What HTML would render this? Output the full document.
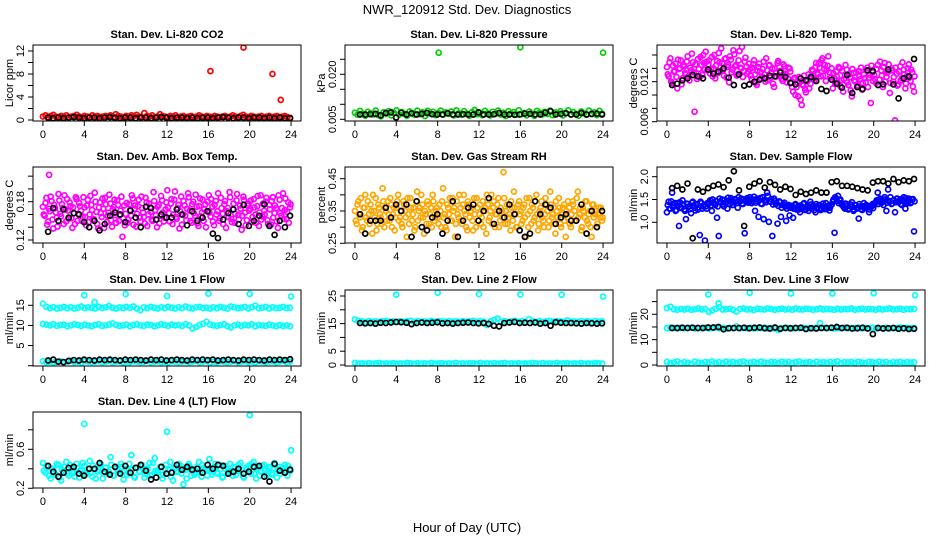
<!DOCTYPE html>
<html><head><meta charset="utf-8"><style>
html,body{margin:0;padding:0;background:#fff;}
svg{display:block;font-family:"Liberation Sans",sans-serif;}
</style></head><body>
<svg id="chart" width="936" height="540" viewBox="0 0 936 540">
<rect x="0" y="0" width="936" height="540" fill="#fff"/>
<text x="467" y="14" font-size="13" text-anchor="middle">NWR_120912  Std. Dev. Diagnostics</text>
<text x="467" y="532" font-size="13" text-anchor="middle">Hour of Day (UTC)</text>
</svg>
<script>
// ---- data ----
const xTicks = [0,4,8,12,16,20,24];
const xTickLabels = ["0","4","8","12","16","20","24"];

const co2Main = [0.6,0.8,0.5,0.7,0.9,0.6,0.5,0.7,0.6,0.8,0.5,0.6,0.7,0.9,0.6,0.5,0.7,0.6,0.5,0.8,0.6,0.7,0.5,0.6,0.7,0.6,0.8,0.5,1.0,0.7,0.6,0.5,0.7,0.6,0.8,0.7,0.9,0.6,0.5,1.2,0.7,0.6,0.8,0.5,0.6,1.0,0.7,0.6,0.5,0.7,0.6,0.8,0.5,0.6,0.7,0.5,0.6,0.7,0.5,0.6,0.8,0.6,0.5,0.7,0.6,0.5,0.7,0.6,0.5,0.6,0.7,0.5,0.6,0.8,0.6,0.5,0.7,0.9,0.6,0.5,0.7,0.6,0.5,0.6,0.7,0.5,0.6,0.7,0.5,0.6,0.7,0.5,0.6,0.7,0.5,0.4];
const co2Black = [0.4,0.3,0.4,0.3,0.4,0.5,0.4,0.3,0.4,0.4,0.3,0.4,0.5,0.4,0.3,0.4,0.4,0.3,0.4,0.4,0.3,0.4,0.5,0.4,0.3,0.4,0.4,0.3,0.4,0.3,0.4,0.4,0.3,0.4,0.5,0.4,0.3,0.4,0.4,0.3,0.4,0.4,0.3,0.4,0.3,0.4,0.3,0.3];
const co2OutX = [16.2,19.4,22.2,23.0];
const co2OutY = [8.5,12.6,8.0,3.5];

const presMain = [0.0072,0.0065,0.0078,0.0068,0.0062,0.0075,0.0070,0.0066,0.0079,0.0064,0.0060,0.0073,0.0069,0.0077,0.0063,0.0071,0.0080,0.0066,0.0074,0.0068,0.0062,0.0076,0.0070,0.0065,0.0079,0.0067,0.0073,0.0061,0.0078,0.0069,0.0075,0.0064,0.0071,0.0079,0.0066,0.0073,0.0068,0.0076,0.0063,0.0080,0.0070,0.0065,0.0077,0.0069,0.0062,0.0074,0.0081,0.0067,0.0072,0.0064,0.0078,0.0070,0.0063,0.0075,0.0068,0.0079,0.0066,0.0072,0.0061,0.0077,0.0069,0.0074,0.0065,0.0080,0.0067,0.0071,0.0063,0.0076,0.0069,0.0062,0.0078,0.0072,0.0066,0.0075,0.0068,0.0079,0.0064,0.0073,0.0070,0.0077,0.0063,0.0071,0.0080,0.0066,0.0074,0.0068,0.0062,0.0076,0.0070,0.0065,0.0079,0.0067,0.0073,0.0064,0.0078,0.0069];
const presBlack = [0.0066,0.0066,0.0067,0.0068,0.0063,0.0071,0.0073,0.0056,0.0072,0.0066,0.0070,0.0066,0.0068,0.0071,0.0067,0.0066,0.0066,0.0070,0.0066,0.0066,0.0067,0.0066,0.0066,0.0073,0.0066,0.0066,0.0067,0.0071,0.0066,0.0066,0.0065,0.0066,0.0069,0.0068,0.0066,0.0066,0.0072,0.0077,0.0066,0.0068,0.0070,0.0066,0.0066,0.0071,0.0066,0.0068,0.0069,0.0066];
const presOutX = [8.1,16.0,24.0];
const presOutY = [0.0272,0.0290,0.0272];

const tempMain = [.0142,.0128,.0155,.0118,.0135,.0147,.0110,.0139,.0152,.0125,.0143,.0131,.0158,.0122,.0137,.0149,.0075,.0133,.0154,.0127,.0145,.0160,.0138,.0150,
.0146,.0132,.0157,.0140,.0125,.0151,.0163,.0136,.0148,.0129,.0155,.0142,.0119,.0153,.0138,.0161,.0145,.0131,.0166,.0140,.0127,.0150,.0143,.0135,
.0138,.0124,.0146,.0131,.0115,.0142,.0135,.0128,.0150,.0120,.0137,.0144,.0126,.0139,.0112,.0133,.0148,.0129,.0136,.0121,.0143,.0130,.0125,.0140,
.0118,.0105,.0126,.0112,.0098,.0120,.0085,.0114,.0108,.0123,.0131,.0117,.0138,.0125,.0142,.0133,.0147,.0128,.0155,.0139,.0121,.0144,.0134,.0127,
.0110,.0125,.0135,.0118,.0140,.0122,.0105,.0130,.0138,.0115,.0127,.0098,.0133,.0120,.0112,.0136,.0124,.0108,.0131,.0119,.0141,.0126,.0088,.0134,
.0130,.0118,.0145,.0123,.0137,.0112,.0148,.0127,.0135,.0103,.0140,.0120,.0062,.0132,.0116,.0143,.0125,.0138,.0110,.0129,.0146,.0121,.0134,.0105];
const tempMain2 = [.0131,.0149,.0120,.0144,.0136,.0127,.0153,.0140,.0116,.0145,.0133,.0150,.0128,.0141,.0162,.0134,.0146,.0124,.0139,.0157,.0130,.0148,.0165,.0137,
.0152,.0139,.0128,.0160,.0144,.0133,.0149,.0170,.0137,.0154,.0126,.0145,.0158,.0134,.0167,.0143,.0129,.0152,.0141,.0172,.0136,.0156,.0132,.0147,
.0129,.0141,.0152,.0118,.0136,.0147,.0125,.0139,.0131,.0155,.0122,.0145,.0134,.0117,.0140,.0128,.0151,.0136,.0124,.0146,.0132,.0119,.0141,.0135,
.0112,.0124,.0100,.0119,.0127,.0093,.0116,.0129,.0104,.0121,.0110,.0128,.0136,.0122,.0148,.0131,.0141,.0152,.0129,.0145,.0137,.0158,.0126,.0140,
.0132,.0117,.0128,.0142,.0113,.0136,.0124,.0145,.0119,.0131,.0107,.0139,.0122,.0134,.0115,.0128,.0141,.0118,.0125,.0137,.0112,.0130,.0144,.0121,
.0124,.0139,.0115,.0150,.0129,.0142,.0120,.0133,.0146,.0118,.0137,.0127,.0141,.0114,.0135,.0122,.0149,.0131,.0117,.0140,.0126,.0138,.0113,.0128];
const tempBlack = [.0115,.0117,.0122,.0125,.0130,.0128,.0125,.0138,.0132,.0135,.0140,.0126,.0115,.0131,.0114,.0116,.0120,.0123,.0125,.0129,.0128,.0134,.0127,.0118,.0116,.0125,.0122,.0127,.0121,.0109,.0106,.0123,.0117,.0111,.0130,.0103,.0112,.0109,.0137,.0136,.0115,.0116,.0138,.0116,.0095,.0125,.0128,.0154];

const ambMain = [0.172,0.158,0.186,0.149,0.165,0.181,0.138,0.170,0.155,0.192,0.161,0.176,0.145,0.168,0.184,0.153,0.173,0.139,0.162,0.187,0.150,0.178,0.166,0.157,
0.171,0.143,0.183,0.160,0.175,0.152,0.194,0.164,0.138,0.179,0.156,0.169,0.186,0.148,0.163,0.177,0.141,0.172,0.159,0.182,0.150,0.166,0.125,0.174,
0.161,0.147,0.176,0.158,0.185,0.169,0.141,0.173,0.155,0.188,0.163,0.146,0.179,0.160,0.171,0.152,0.195,0.167,0.140,0.175,0.158,0.182,0.149,0.168,
0.198,0.162,0.177,0.145,0.183,0.156,0.170,0.138,0.188,0.160,0.174,0.151,0.193,0.166,0.147,0.180,0.158,0.172,0.142,0.185,0.163,0.150,0.176,0.165,
0.190,0.157,0.172,0.143,0.181,0.165,0.150,0.186,0.161,0.176,0.139,0.170,0.195,0.153,0.168,0.147,0.182,0.159,0.174,0.136,0.188,0.163,0.151,0.177,
0.169,0.148,0.184,0.160,0.173,0.142,0.190,0.157,0.166,0.180,0.151,0.175,0.144,0.187,0.162,0.170,0.139,0.183,0.158,0.193,0.167,0.153,0.179,0.171];
const ambMain2 = [0.160,0.178,0.144,0.169,0.188,0.152,0.175,0.163,0.141,0.182,0.157,0.170,0.190,0.149,0.166,0.179,0.154,0.171,0.145,0.184,0.161,0.173,0.150,0.187,
0.156,0.174,0.148,0.189,0.167,0.153,0.180,0.145,0.171,0.162,0.185,0.139,0.176,0.158,0.191,0.151,0.168,0.183,0.147,0.175,0.160,0.188,0.154,0.143,
0.178,0.152,0.167,0.190,0.144,0.174,0.161,0.183,0.149,0.170,0.156,0.186,0.142,0.177,0.164,0.150,0.181,0.159,0.172,0.146,0.189,0.163,0.155,0.179,
0.171,0.149,0.184,0.160,0.196,0.153,0.175,0.165,0.144,0.181,0.158,0.169,0.187,0.150,0.176,0.162,0.191,0.146,0.173,0.157,0.183,0.168,0.140,0.180,
0.163,0.184,0.149,0.175,0.160,0.193,0.154,0.170,0.145,0.181,0.165,0.156,0.187,0.148,0.177,0.161,0.192,0.152,0.169,0.158,0.183,0.143,0.174,0.166,
0.182,0.156,0.171,0.147,0.189,0.163,0.152,0.177,0.160,0.186,0.145,0.168,0.181,0.155,0.174,0.149,0.190,0.162,0.170,0.153,0.185,0.164,0.147,0.176];
const ambBlack = [0.133,0.170,0.150,0.168,0.155,0.162,0.160,0.148,0.140,0.150,0.135,0.145,0.158,0.163,0.160,0.148,0.166,0.155,0.140,0.172,0.170,0.152,0.160,0.155,0.155,0.168,0.160,0.143,0.165,0.150,0.155,0.165,0.130,0.123,0.152,0.162,0.168,0.145,0.175,0.142,0.150,0.158,0.176,0.142,0.128,0.150,0.140,0.158];
const ambOutX = [0.6];
const ambOutY = [0.222];

const rhMain = [0.35,0.31,0.38,0.33,0.29,0.36,0.40,0.32,0.34,0.37,0.28,0.35,0.39,0.31,0.36,0.33,0.42,0.30,0.35,0.38,0.32,0.37,0.34,0.29,
0.36,0.40,0.33,0.31,0.38,0.35,0.27,0.34,0.39,0.32,0.36,0.30,0.41,0.35,0.33,0.37,0.28,0.34,0.38,0.31,0.36,0.40,0.32,0.35,
0.33,0.37,0.30,0.42,0.34,0.29,0.36,0.39,0.32,0.35,0.27,0.38,0.33,0.36,0.31,0.40,0.34,0.29,0.37,0.35,0.32,0.39,0.30,0.36,
0.34,0.31,0.38,0.35,0.28,0.37,0.33,0.40,0.36,0.30,0.34,0.39,0.32,0.35,0.47,0.31,0.37,0.33,0.29,0.36,0.41,0.34,0.30,0.38,
0.35,0.32,0.37,0.27,0.34,0.39,0.31,0.36,0.33,0.40,0.29,0.35,0.38,0.32,0.34,0.37,0.30,0.41,0.33,0.36,0.28,0.35,0.39,0.31,
0.34,0.37,0.27,0.33,0.36,0.30,0.38,0.35,0.32,0.41,0.34,0.29,0.36,0.33,0.38,0.31,0.35,0.27,0.37,0.34,0.30,0.36,0.33,0.32];
const rhMain2 = [0.32,0.37,0.34,0.39,0.30,0.36,0.33,0.38,0.31,0.35,0.40,0.33,0.29,0.37,0.34,0.31,0.38,0.36,0.32,0.34,0.39,0.30,0.36,0.33,
0.38,0.32,0.35,0.30,0.37,0.33,0.39,0.31,0.36,0.34,0.29,0.38,0.32,0.36,0.40,0.33,0.35,0.31,0.37,0.34,0.30,0.38,0.33,0.36,
0.31,0.35,0.38,0.33,0.30,0.37,0.34,0.32,0.39,0.36,0.31,0.34,0.40,0.32,0.37,0.35,0.30,0.38,0.33,0.36,0.29,0.34,0.39,0.32,
0.37,0.33,0.30,0.36,0.40,0.32,0.35,0.31,0.38,0.34,0.37,0.30,0.36,0.33,0.39,0.35,0.31,0.34,0.38,0.32,0.36,0.30,0.37,0.34,
0.31,0.36,0.33,0.39,0.30,0.35,0.37,0.32,0.38,0.34,0.31,0.36,0.33,0.30,0.39,0.35,0.32,0.37,0.34,0.31,0.38,0.33,0.36,0.30,
0.36,0.32,0.35,0.38,0.31,0.34,0.37,0.32,0.39,0.33,0.36,0.30,0.35,0.38,0.32,0.34,0.30,0.37,0.33,0.35,0.31,0.34,0.36,0.33];
const rhBlack = [0.34,0.28,0.32,0.32,0.32,0.36,0.33,0.37,0.35,0.37,0.27,0.38,0.30,0.29,0.33,0.34,0.28,0.32,0.38,0.27,0.32,0.36,0.37,0.32,0.35,0.39,0.31,0.35,0.33,0.37,0.34,0.29,0.27,0.28,0.38,0.34,0.37,0.36,0.31,0.33,0.34,0.32,0.32,0.37,0.28,0.35,0.30,0.35];

const flowMain = [1.22,1.45,1.30,1.65,1.38,1.25,1.42,0.92,1.33,1.48,1.28,1.07,1.40,1.35,1.20,1.45,1.32,1.38,1.28,0.72,1.42,1.35,0.60,1.30,
1.40,1.48,1.25,1.43,1.38,1.10,0.70,1.45,1.50,1.35,1.42,1.30,1.47,1.53,1.38,1.44,1.49,1.32,1.46,1.52,1.40,0.76,1.48,1.43,
1.55,1.42,1.50,1.25,1.47,1.12,1.53,1.40,1.07,1.48,1.65,1.01,1.45,0.70,1.52,1.40,0.97,1.46,1.12,1.38,1.43,1.03,1.35,1.15,
1.32,1.10,1.38,1.28,1.35,1.22,1.30,1.40,1.27,1.33,1.25,1.45,1.30,1.36,1.22,1.31,1.38,1.27,1.35,1.29,1.42,1.33,1.26,1.38,
1.45,0.77,1.52,1.58,1.48,1.42,1.36,1.30,1.40,1.28,1.35,1.44,1.25,1.38,1.30,1.08,1.35,1.27,1.42,1.31,1.36,1.22,1.33,1.40,
1.38,1.45,1.65,1.48,1.42,1.50,1.55,1.25,1.72,1.45,1.40,1.48,1.22,1.52,1.44,1.50,1.38,1.55,1.30,1.46,1.52,1.42,1.50,0.80];
const flowMain2 = [1.38,1.30,1.46,1.33,1.42,1.27,1.36,1.44,1.31,1.39,1.25,1.41,1.34,1.29,1.43,1.37,1.26,1.40,1.33,1.45,1.30,1.38,1.35,1.42,
1.44,1.37,1.50,1.41,1.47,1.35,1.52,1.43,1.39,1.49,1.45,1.54,1.40,1.48,1.44,1.51,1.42,1.55,1.46,1.41,1.50,1.47,1.53,1.45,
1.50,1.46,1.56,1.43,1.52,1.48,1.41,1.55,1.49,1.44,1.58,1.46,1.51,1.39,1.47,1.42,1.36,1.44,1.32,1.40,1.35,1.30,1.38,1.33,
1.36,1.30,1.40,1.33,1.28,1.37,1.34,1.42,1.29,1.36,1.31,1.39,1.35,1.27,1.40,1.33,1.37,1.30,1.41,1.34,1.29,1.36,1.32,1.39,
1.50,1.55,1.47,1.42,1.50,1.38,1.33,1.41,1.36,1.30,1.39,1.34,1.28,1.37,1.32,1.40,1.29,1.35,1.31,1.38,1.33,1.28,1.36,1.31,
1.42,1.48,1.40,1.52,1.45,1.38,1.50,1.43,1.47,1.55,1.41,1.49,1.44,1.52,1.46,1.40,1.50,1.45,1.53,1.42,1.48,1.44,1.51,1.46];
const flowBlack = [1.75,1.80,1.72,1.85,0.65,1.72,1.67,1.75,1.80,1.83,1.77,1.92,2.12,1.70,0.92,1.78,1.85,1.90,1.76,1.88,1.82,1.72,1.78,1.73,1.60,1.67,1.62,1.65,1.70,1.65,1.65,1.88,1.90,1.80,1.80,1.78,1.75,1.72,1.70,1.87,1.90,1.90,1.85,1.95,1.88,1.92,1.90,1.95];

const line1Hi = [15.4,14.6,14.3,14.5,14.2,14.4,14.6,14.3,14.5,14.2,14.4,14.7,14.3,14.5,14.4,14.2,14.6,14.3,14.5,14.8,14.4,14.2,14.5,14.3,14.6,14.4,14.7,14.2,13.8,14.5,14.3,14.6,14.4,14.2,14.5,14.3,14.6,14.4,14.2,14.5,14.3,14.7,14.4,14.2,14.5,14.6,14.3,14.4,14.2,14.5,14.3,14.6,14.4,14.2,14.7,14.5,14.3,14.4,14.6,14.2,14.5,14.9,14.3,14.4,14.6,14.2,14.5,14.3,14.4,14.6,14.3,14.4];
const line1Mid = [10.4,10.2,10.0,10.3,9.9,10.1,10.2,9.8,10.0,10.3,10.1,9.9,10.2,10.0,9.8,10.1,10.3,9.9,10.0,10.2,10.5,10.1,9.9,10.0,10.2,9.8,10.1,10.3,10.0,9.9,10.2,10.1,9.8,10.0,10.3,10.1,9.9,10.2,10.0,10.1,9.9,10.3,10.0,9.2,9.6,10.1,10.4,10.9,10.2,10.0,9.9,10.1,10.3,9.8,9.5,10.0,10.2,9.9,10.1,10.0,10.3,9.8,10.1,10.0,9.9,10.2,10.0,9.8,10.1,9.9,10.0,9.8];
const line1Lo = [1.1,0.9,1.0,0.8,1.0,1.1,0.9,1.0,1.2,0.9,1.0,0.8,1.1,1.0,0.9,1.0,1.1,0.9,1.0,1.2,0.9,1.0,1.1,0.8,1.0,0.9,1.1,1.0,0.9,1.0,1.2,0.9,1.0,1.1,0.9,1.0,0.8,1.1,1.0,0.9,1.0,1.1,0.9,1.0,1.2,0.9,1.0,1.1,0.8,1.0,0.9,1.1,1.0,0.9,1.0,1.2,0.9,1.0,1.1,0.9,1.0,0.8,1.1,1.0,0.9,1.0,1.1,0.9,1.0,1.2,0.9,1.0];
const line1Black = [1.3,1.5,1.0,0.9,1.2,1.4,1.3,1.5,1.4,1.3,1.5,1.4,1.5,1.4,1.3,1.5,1.4,1.5,1.4,1.3,1.5,1.4,1.5,1.3,1.4,1.5,1.4,1.3,1.5,1.4,1.5,1.4,1.5,1.3,1.4,1.5,1.4,1.3,1.5,1.4,1.5,1.4,1.3,1.5,1.4,1.5,1.4,1.6];
const line1OutX = [4,5,8,12,16,20,24];
const line1OutY = [17.5,15.8,17.8,17.3,17.9,17.8,17.2];

const line2Hi = [16.5,16.0,15.8,15.6,15.9,15.7,15.8,15.6,15.9,16.0,15.7,15.8,15.6,15.9,15.7,15.8,16.0,15.6,15.9,15.7,15.8,15.6,16.0,15.7,15.9,15.8,15.6,15.9,15.7,15.8,15.6,15.9,15.7,15.8,16.0,15.6,15.9,15.7,14.5,15.8,16.3,16.8,15.7,15.9,15.6,15.8,16.0,15.7,15.9,15.6,16.6,15.8,15.7,15.9,15.6,15.8,16.0,15.7,15.9,15.8,15.6,16.2,15.7,15.8,15.6,15.9,15.7,15.8,15.6,15.9,15.7,15.8];
const line2Lo = [0.8,0.5,0.6,0.4,0.7,0.5,0.6,0.8,0.4,0.6,0.5,0.7,0.4,0.6,0.5,0.8,0.6,0.4,0.7,0.5,0.6,0.4,0.8,0.5,0.6,0.7,0.4,0.6,0.5,0.8,0.4,0.6,0.5,0.7,0.6,0.4,0.8,0.5,0.6,0.4,0.7,0.5,0.6,0.8,0.4,0.6,0.5,0.7,0.4,0.6,0.5,0.8,0.6,0.4,0.7,0.5,0.6,0.4,0.8,0.5,0.6,0.7,0.4,0.6,0.5,0.8,0.4,0.6,0.5,0.7,0.6,0.5];
const line2Black = [15.2,15.1,15.2,15.0,15.3,15.2,15.4,15.6,15.5,15.3,14.8,15.2,15.4,15.2,15.3,15.5,15.1,15.2,15.0,15.2,15.3,15.4,15.2,15.1,15.2,14.9,14.2,14.0,15.2,15.4,15.6,15.2,15.3,15.2,15.4,15.0,15.2,14.2,15.5,15.3,15.2,15.2,15.1,15.0,15.2,15.1,15.0,15.1];
const line2OutX = [4,8,12,16,20,24];
const line2OutY = [25.5,26.2,25.7,25.6,25.5,24.8];

const line3Hi = [22.5,23.0,22.0,21.8,22.1,21.9,22.2,21.8,22.0,22.3,21.9,22.1,21.0,21.5,22.2,22.8,21.9,22.0,22.2,21.8,21.1,22.1,22.3,21.9,22.0,21.7,22.2,22.0,21.9,22.3,22.1,21.8,22.0,22.2,21.9,22.1,21.8,22.3,22.0,21.9,22.2,22.1,21.8,22.0,22.3,21.9,22.1,22.0,21.8,22.2,21.9,22.1,22.0,22.3,21.8,22.0,22.2,21.9,22.1,22.0,21.8,22.2,21.9,22.1,22.3,21.9,22.0,22.2,21.8,22.1,22.0,22.1];
const line3Mid = [14.5,14.8,14.6,14.4,14.7,14.5,14.6,14.8,14.4,14.6,14.5,14.7,14.4,14.6,14.9,14.5,14.7,14.4,14.6,14.5,15.2,14.4,14.6,14.5,14.7,14.4,14.6,14.5,14.8,14.4,14.6,14.3,13.8,14.5,14.7,14.6,14.4,14.6,14.5,14.7,14.4,14.6,14.5,14.8,16.5,14.6,14.5,14.7,14.4,14.6,14.5,14.7,14.4,14.6,14.5,14.8,14.4,14.6,14.5,14.7,14.4,14.6,14.5,14.7,14.4,14.6,14.5,14.8,14.4,14.6,14.5,14.6];
const line3Lo = [1.2,0.8,1.0,1.4,0.7,1.1,0.9,0.5,1.3,1.0,0.8,1.2,1.0,1.4,0.9,1.1,0.8,1.3,1.0,1.2,0.9,1.1,1.4,0.8,1.0,1.2,0.9,1.3,1.0,0.8,1.2,1.1,0.9,1.3,1.0,1.2,0.8,1.1,1.4,0.9,1.0,1.2,0.8,1.3,1.0,1.1,0.9,1.2,1.0,1.4,0.8,1.1,1.0,1.2,0.9,1.3,1.0,0.8,1.2,1.1,0.9,1.3,1.0,1.2,0.8,1.1,1.0,1.2,0.9,1.1,1.0,1.1];
const line3Black = [14.6,14.6,14.7,14.6,14.7,14.6,14.6,14.8,14.8,15.0,14.1,14.5,14.6,14.6,14.7,14.5,14.7,14.8,14.5,14.4,14.8,14.3,14.6,14.5,14.6,14.7,14.2,14.5,14.4,14.6,14.6,14.7,15.0,14.6,14.7,14.4,14.5,14.7,14.4,12.2,14.6,14.4,14.5,14.6,14.3,14.5,14.2,14.3];
const line3OutX = [4,5,8,12,16,20,24];
const line3OutY = [27.8,24.3,28.5,28.2,28.2,28.3,27.5];

const line4Main = [0.46,0.36,0.42,0.30,0.40,0.34,0.44,0.28,0.38,0.47,0.33,0.41,0.36,0.45,0.31,0.39,0.43,0.35,0.48,0.32,0.40,0.37,0.44,0.30,0.41,0.35,0.52,0.33,0.42,0.38,0.45,0.29,0.40,0.36,0.54,0.32,0.41,0.37,0.44,0.31,0.39,0.46,0.34,0.51,0.38,0.42,0.30,0.40,0.35,0.47,0.28,0.41,0.37,0.43,0.24,0.39,0.45,0.33,0.40,0.36,0.47,0.32,0.41,0.38,0.50,0.34,0.42,0.36,0.44,0.31,0.40,0.37,0.45,0.33,0.41,0.38,0.46,0.32,0.39,0.43,0.35,0.47,0.30,0.41,0.37,0.44,0.33,0.40,0.36,0.46,0.31,0.42,0.38,0.44,0.33,0.40];
const line4Main2 = [0.38,0.43,0.33,0.40,0.36,0.45,0.31,0.39,0.42,0.35,0.44,0.37,0.32,0.41,0.38,0.46,0.34,0.40,0.36,0.43,0.30,0.39,0.45,0.35,0.41,0.37,0.44,0.33,0.40,0.36,0.42,0.38,0.34,0.45,0.39,0.31,0.41,0.37,0.43,0.35,0.40,0.33,0.46,0.38,0.36,0.42,0.34,0.44,0.39,0.32,0.41,0.37,0.45,0.35,0.40,0.30,0.43,0.38,0.34,0.42,0.36,0.44,0.39,0.33,0.41,0.37,0.45,0.35,0.40,0.32,0.43,0.38,0.36,0.42,0.34,0.44,0.39,0.31,0.41,0.37,0.45,0.35,0.40,0.33,0.43,0.38,0.36,0.42,0.34,0.44,0.39,0.35,0.41,0.37,0.43,0.38];
const line4Black = [0.43,0.37,0.32,0.36,0.41,0.42,0.35,0.33,0.40,0.40,0.46,0.37,0.34,0.42,0.35,0.43,0.36,0.41,0.44,0.38,0.29,0.31,0.42,0.35,0.36,0.44,0.39,0.42,0.39,0.40,0.36,0.44,0.40,0.44,0.43,0.35,0.37,0.40,0.35,0.37,0.42,0.43,0.32,0.27,0.45,0.38,0.36,0.39];
const line4OutX = [4,12,20,24];
const line4OutY = [0.86,0.78,0.95,0.59];

// ---- drawing ----
const NS = "http://www.w3.org/2000/svg";
const svg = document.getElementById("chart");
const PW = 268, PH = 76;
const colLeft = [33,345,657];
const rowTop = [45,167,290,412];
function mk(tag, attrs, parent){
  const e = document.createElementNS(NS, tag);
  for (const k in attrs) e.setAttribute(k, attrs[k]);
  (parent||svg).appendChild(e);
  return e;
}
function drawPanel(P){
  const L = colLeft[P.col], T = rowTop[P.row];
  const g = mk("g", {});
  
  
  const sx = v => L + (v + 0.96) / 25.92 * PW;
  const sy = v => P.p1 + (v - P.v1) * (P.p2 - P.p1) / (P.v2 - P.v1);
  const t = mk("text", {x: L + PW/2, y: T - 7, "font-size": 11, "font-weight": "bold", "text-anchor": "middle"}, g);
  t.textContent = P.title;
  
  
  const yt = mk("text", {transform: `translate(${L-20},${T+PH/2}) rotate(-90)`, "font-size": 11, "text-anchor": "middle"}, g);
  yt.textContent = P.ylab;
  
  
  xTicks.forEach((v, i) => {
    const x = sx(v);
    mk("line", {x1: x, x2: x, y1: T+PH, y2: T+PH+5, stroke: "#000"}, g);
    const lb = mk("text", {x: x, y: T+PH+17, "font-size": 11, "text-anchor": "middle"}, g);
    lb.textContent = xTickLabels[i];
    
    
  });
  P.yTicks.forEach(v => {
    const y = sy(v);
    mk("line", {x1: L-5, x2: L, y1: y, y2: y, stroke: "#000"}, g);
  });
  P.yLabels.forEach(v => {
    const y = sy(v);
    const lb = mk("text", {transform: `translate(${L-9},${y}) rotate(-90)`, "font-size": 11, "text-anchor": "middle"}, g);
    lb.textContent = String(v);
    
    
  });
  const clip = "clip" + P.name;
  const cp = mk("clipPath", {id: clip}, g);
  mk("rect", {x: L, y: T, width: PW, height: PH}, cp);
  const pts = mk("g", {"clip-path": `url(#${clip})`, fill: "none", "stroke-width": 1.7}, g);
  function series(vals, x0, x1, color, nm){
    const n = vals.length;
    vals.forEach((v, i) => {
      const c = mk("circle", {cx: sx(x0 + (x1 - x0) * i / (n - 1)), cy: sy(v), r: 2.5, stroke: color}, pts);
      
      
    });
  }
  function outliers(xs, ys, color){
    xs.forEach((x, i) => {
      const c = mk("circle", {cx: sx(x), cy: sy(ys[i]), r: 2.5, stroke: color}, pts);
      
      
    });
  }
  P.main.forEach(a => series(a, 0, 23.9, P.color, 'data-point'));
  (P.main2 || []).forEach(a => series(a, 0.08, 23.95, P.color, 'data-point'));
  if (P.outX) outliers(P.outX, P.outY, P.color);
  series(P.black, 0.5, 23.9, "#000", 'reference-point');
  const box = mk("rect", {x: L, y: T, width: PW, height: PH, fill: "none", stroke: "#000"}, g);
  
  
}

drawPanel({name:"co2-panel", col:0,row:0,title:"Stan. Dev. Li-820 CO2", ylab:"Licor ppm", color:"#ff0000",
  v1:0,p1:120,v2:12,p2:51, yTicks:[0,2,4,6,8,10,12], yLabels:[0,4,8,12], main:[co2Main], black:co2Black, outX:co2OutX, outY:co2OutY});
drawPanel({name:"pressure-panel", col:1,row:0,title:"Stan. Dev. Li-820 Pressure", ylab:"kPa", color:"#00d000",
  v1:0.005,p1:119.3,v2:0.020,p2:74.3, yTicks:[0.005,0.010,0.015,0.020,0.025], yLabels:["0.005","0.020"], main:[presMain], black:presBlack, outX:presOutX, outY:presOutY});
drawPanel({name:"temp-panel", col:2,row:0,title:"Stan. Dev. Li-820 Temp.", ylab:"degrees C", color:"#ff00ff",
  v1:0.006,p1:121.7,v2:0.016,p2:55, yTicks:[0.006,0.008,0.010,0.012,0.014,0.016], yLabels:["0.006","0.012"], main:[tempMain], main2:[tempMain2], black:tempBlack});
drawPanel({name:"amb-box-panel", col:0,row:1,title:"Stan. Dev. Amb. Box Temp.", ylab:"degrees C", color:"#ff00ff",
  v1:0.12,p1:240,v2:0.18,p2:201.7, yTicks:[0.12,0.14,0.16,0.18,0.20,0.22], yLabels:["0.12","0.18"], main:[ambMain], main2:[ambMain2], black:ambBlack, outX:ambOutX, outY:ambOutY});
drawPanel({name:"rh-panel", col:1,row:1,title:"Stan. Dev. Gas Stream RH", ylab:"percent", color:"#ffa500",
  v1:0.25,p1:243.3,v2:0.45,p2:178.7, yTicks:[0.25,0.30,0.35,0.40,0.45], yLabels:["0.25","0.35","0.45"], main:[rhMain], main2:[rhMain2], black:rhBlack});
drawPanel({name:"sample-flow-panel", col:2,row:1,title:"Stan. Dev. Sample Flow", ylab:"ml/min", color:"#0000ff",
  v1:1.0,p1:222.3,v2:2.0,p2:176.7, yTicks:[1.0,1.5,2.0], yLabels:["1.0","1.5","2.0"], main:[flowMain], main2:[flowMain2], black:flowBlack});
drawPanel({name:"line1-panel", col:0,row:2,title:"Stan. Dev. Line 1 Flow", ylab:"ml/min", color:"#00ffff",
  v1:0,p1:365.7,v2:15,p2:305.3, yTicks:[0,5,10,15], yLabels:[5,10,15], main:[line1Hi,line1Mid,line1Lo], black:line1Black, outX:line1OutX, outY:line1OutY});
drawPanel({name:"line2-panel", col:1,row:2,title:"Stan. Dev. Line 2 Flow", ylab:"ml/min", color:"#00ffff",
  v1:0,p1:365,v2:25,p2:296, yTicks:[0,5,10,15,20,25], yLabels:[0,5,15,25], main:[line2Hi,line2Lo], black:line2Black, outX:line2OutX, outY:line2OutY});
drawPanel({name:"line3-panel", col:2,row:2,title:"Stan. Dev. Line 3 Flow", ylab:"ml/min", color:"#00ffff",
  v1:0,p1:365,v2:20,p2:314.3, yTicks:[0,5,10,15,20,25], yLabels:[0,10,20], main:[line3Hi,line3Mid,line3Lo], black:line3Black, outX:line3OutX, outY:line3OutY});
drawPanel({name:"line4-panel", col:0,row:3,title:"Stan. Dev. Line 4 (LT) Flow", ylab:"ml/min", color:"#00ffff",
  v1:0.2,p1:488.3,v2:0.6,p2:449.3, yTicks:[0.2,0.4,0.6,0.8], yLabels:["0.2","0.6"], main:[line4Main], main2:[line4Main2], black:line4Black, outX:line4OutX, outY:line4OutY});
</script>
</body></html>
